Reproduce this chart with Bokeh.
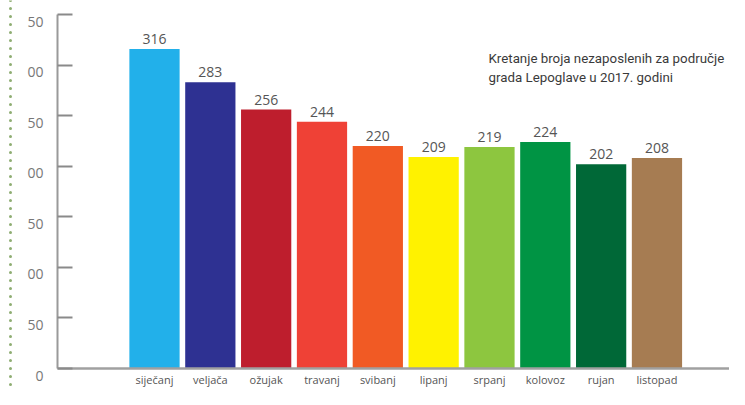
from bokeh.plotting import figure
from bokeh.models import Range1d, LinearAxis, FixedTicker, Span, Label
from bokeh.embed import file_html
from bokeh.resources import INLINE
from bokeh.core.properties import value

# ---- data ----
months = ["siječanj", "veljača", "ožujak", "travanj", "svibanj",
          "lipanj", "srpanj", "kolovoz", "rujan", "listopad"]
values = [316, 283, 256, 244, 220, 209, 219, 224, 202, 208]
colors = ["#22b0ea", "#2e3192", "#be1e2d", "#ef4136", "#f15a24",
          "#fff200", "#8dc63f", "#009444", "#006837", "#a67c52"]
y_ticks = [0, 50, 100, 150, 200, 250, 300, 350]
y_tick_labels = ["0", "50", "00", "50", "00", "50", "00", "50"]
note_lines = ["Kretanje broja nezaposlenih za područje",
              "grada Lepoglave u 2017.  godini"]

# ---- layout ----
W, H = 729, 389
PX_X = 55.83          # px per category step
X0 = 154.0            # canvas x of first bar centre
TOP_OFF = 14.0        # canvas y of value 350
AXIS_Y = 368.0        # canvas y of value 0
PX_Y = (AXIS_Y - TOP_OFF) / 350
x_start = -X0 / PX_X
x_end = (W - X0) / PX_X
y_end = 350 + TOP_OFF / PX_Y
y_start = 350 - (H - TOP_OFF) / PX_Y

def cx(px):
    return (px - X0) / PX_X

def cy(py):
    return y_end - py / PX_Y

idx = list(range(len(months)))

p = figure(width=W, height=H, output_backend="svg", toolbar_location=None,
           x_range=Range1d(x_start, x_end), y_range=Range1d(y_start, y_end),
           x_axis_location=None, y_axis_location=None, min_border=0,
           outline_line_color=None)
p.grid.visible = False

# dotted border on the left
p.add_layout(Span(location=cx(10), dimension="height", line_color="#8fae73",
                  line_width=3, line_dash="0 8", line_cap="round"))

p.vbar(x=idx, top=values, width=0.9, color=colors, line_color=None)

p.text(x=idx, y=values, text=[str(v) for v in values], text_align="center",
       text_baseline="alphabetic", y_offset=-10, text_font=value("Open Sans"),
       text_font_size="14px", text_color="#555555")

axis_x = cx(57)
yaxis = LinearAxis(fixed_location=axis_x, bounds=(0, 350),
                   ticker=FixedTicker(ticks=y_ticks),
                   major_tick_in=15, major_tick_out=0, minor_tick_line_color=None,
                   axis_line_color="#9a9a9a", axis_line_width=2,
                   major_tick_line_color="#8a8a8a", major_tick_line_width=2,
                   major_label_text_color=None)
p.add_layout(yaxis, "left")

# y tick labels (sit just below each tick, as in the reference)
p.text(x=[cx(43)] * len(y_ticks), y=y_ticks, text=y_tick_labels,
       text_align="right", text_baseline="top", y_offset=2,
       text_font=value("Open Sans"), text_font_size="14px", text_color="#777777")

xaxis = LinearAxis(fixed_location=0, bounds=(axis_x, x_end),
                   ticker=FixedTicker(ticks=idx),
                   major_label_overrides={i: m for i, m in zip(idx, months)},
                   major_tick_line_color=None, minor_tick_line_color=None,
                   major_tick_in=0, major_tick_out=0,
                   axis_line_color="#a0a0a0", axis_line_width=2.5,
                   major_label_standoff=3, major_label_text_font="Open Sans",
                   major_label_text_font_size="11px", major_label_text_color="#555555")
p.add_layout(xaxis, "below")

for line, base in zip(note_lines, [58.4, 77.2]):
    p.add_layout(Label(x=cx(488), y=cy(base), text=line,
                       text_font="Roboto", text_font_size="13.3px",
                       text_color="#3a3a3a", text_baseline="alphabetic"))

open("out.html", "w").write(file_html(p, INLINE))
